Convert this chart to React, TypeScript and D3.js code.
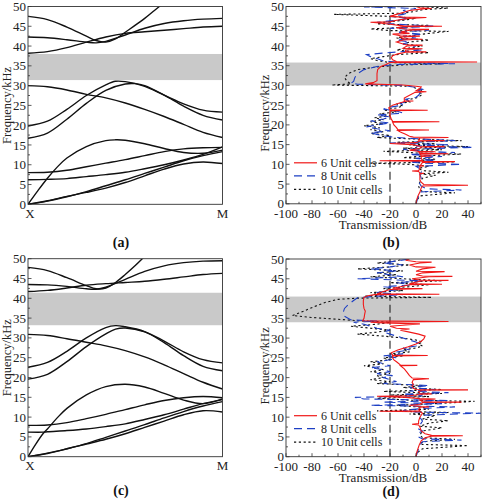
import React from 'react';
import * as d3 from 'd3';

// ---------- Panel (a) band structure: [k (X→M), frequency kHz] ----------
const aB1 = [[0,0],[0.1,0.9],[0.2,2.0],[0.3,3.0],[0.4,4.1],[0.5,5.5],[0.6,7.2],[0.7,8.9],[0.8,10.2],[0.9,10.7],[1,10.3]];
const aB2 = [[0,0],[0.1,0.8],[0.2,1.9],[0.3,3.2],[0.4,4.7],[0.5,6.2],[0.6,7.8],[0.7,9.4],[0.8,11.0],[0.9,12.3],[1,13.3]];
const aB3 = [[0,0],[0.05,3.4],[0.1,6.6],[0.15,9.4],[0.2,11.7],[0.3,14.6],[0.4,16.1],[0.45,16.3],[0.5,16.2],[0.6,15.3],[0.7,14.1],[0.8,13.1],[0.9,12.9],[1,13.7]];
const aB4 = [[0,8.0],[0.1,8.1],[0.2,8.6],[0.3,9.5],[0.4,10.4],[0.5,11.3],[0.6,12.3],[0.7,13.3],[0.8,14.0],[0.9,14.3],[1,14.4]];
const aB5 = [[0,6.2],[0.1,6.3],[0.2,6.5],[0.3,7.0],[0.4,7.5],[0.5,8.1],[0.6,9.0],[0.7,10.0],[0.8,11.2],[0.9,12.6],[1,14.5]];
const aB6 = [[0,16.7],[0.1,18.0],[0.2,21.5],[0.3,25.5],[0.4,28.8],[0.5,30.4],[0.55,30.5],[0.6,30.0],[0.7,27.6],[0.8,24.8],[0.9,22.5],[1,21.3]];
const aB7 = [[0,19.8],[0.1,21.0],[0.2,24.0],[0.3,27.5],[0.4,30.2],[0.45,31.1],[0.5,31.0],[0.6,29.8],[0.7,27.6],[0.8,25.4],[0.9,23.8],[1,23.3]];
const aB8 = [[0,30.0],[0.1,29.7],[0.2,28.9],[0.3,27.8],[0.4,26.9],[0.5,25.6],[0.6,24.0],[0.7,22.2],[0.8,20.2],[0.9,18.2],[1,16.9]];
const aB9 = [[0,38.2],[0.1,38.6],[0.2,39.6],[0.3,41.0],[0.4,42.3],[0.5,43.2],[0.6,43.6],[0.7,44.0],[0.8,44.4],[0.9,44.8],[1,45.0]];
const aB10 = [[0,42.3],[0.1,42.1],[0.2,41.6],[0.3,41.0],[0.35,40.8],[0.4,41.2],[0.5,42.8],[0.6,44.5],[0.7,45.7],[0.8,46.4],[0.9,46.8],[1,47.0]];
const aB11 = [[0,47.5],[0.1,46.7],[0.2,44.8],[0.3,42.5],[0.35,41.4],[0.4,41.0],[0.45,41.8],[0.5,43.5],[0.6,47.0],[0.65,49.0],[0.7,51.0]];
const aGap = [31.4, 38.0];

// ---------- Panel (c) band structure ----------
const cB1 = [[0,0],[0.1,0.9],[0.2,2.0],[0.3,3.2],[0.4,4.4],[0.5,5.8],[0.6,7.4],[0.7,9.0],[0.8,10.6],[0.9,11.6],[1,11.3]];
const cB2 = [[0,0],[0.1,0.8],[0.2,2.0],[0.3,3.3],[0.4,4.9],[0.5,6.5],[0.6,8.1],[0.7,9.8],[0.8,11.4],[0.9,12.8],[1,13.9]];
const cB3 = [[0,0],[0.04,3.2],[0.08,6.0],[0.1,7.0],[0.15,9.8],[0.2,12.2],[0.3,15.6],[0.4,17.7],[0.5,18.3],[0.6,17.6],[0.7,16.0],[0.8,14.3],[0.9,13.4],[1,14.6]];
const cB4 = [[0,7.9],[0.1,8.0],[0.2,8.6],[0.3,9.6],[0.4,10.7],[0.5,11.9],[0.6,13.1],[0.7,14.2],[0.8,14.9],[0.9,15.2],[1,14.9]];
const cB5 = [[0,6.2],[0.08,6.2],[0.1,6.3],[0.2,6.6],[0.3,7.0],[0.4,7.6],[0.5,8.3],[0.6,9.4],[0.7,10.6],[0.8,12.0],[0.9,13.4],[1,14.4]];
const cB6 = [[0,19.6],[0.1,20.8],[0.2,24.0],[0.3,27.8],[0.4,31.0],[0.45,32.2],[0.5,32.5],[0.6,31.5],[0.7,28.8],[0.8,25.5],[0.9,22.8],[1,21.7]];
const cB7 = [[0,22.6],[0.1,23.8],[0.2,26.6],[0.3,30.0],[0.4,32.6],[0.45,33.1],[0.5,32.8],[0.6,31.6],[0.7,29.2],[0.8,26.5],[0.9,24.5],[1,23.7]];
const cB8 = [[0,30.9],[0.1,30.6],[0.2,29.8],[0.3,28.9],[0.4,28.0],[0.5,26.8],[0.6,25.2],[0.7,23.2],[0.8,21.0],[0.9,18.8],[1,17.1]];
const cB9 = [[0,41.7],[0.1,42.0],[0.2,42.6],[0.3,43.3],[0.4,43.7],[0.5,44.0],[0.6,44.3],[0.7,44.8],[0.8,45.4],[0.9,46.0],[1,46.3]];
const cB10 = [[0,43.5],[0.1,43.4],[0.2,43.0],[0.3,42.4],[0.35,42.3],[0.4,42.8],[0.5,44.8],[0.6,46.8],[0.7,48.2],[0.8,49.0],[0.9,49.4],[1,49.5]];
const cB11 = [[0,47.8],[0.1,47.0],[0.2,45.2],[0.3,43.2],[0.35,42.4],[0.4,42.6],[0.45,44.0],[0.5,46.0],[0.55,48.2],[0.6,50.6]];
const cGap = [33.2, 41.4];

// ---------- Panel (b) transmission: [frequency kHz, dB] ----------
const b6 = [[0,0],[1,0.5],[2,1.5],[3,3],[4,4],[4.5,5],[4.7,40],[4.9,6],[5.5,4],[6,3],[7,3],[7.6,3],[7.7,6],[7.8,3],[8.2,2],[8.3,-3],[8.4,2],[9,3],[9.5,3],[9.6,6],[9.7,3],[10,4],[10.5,5],[10.7,30],[10.8,5],[10.9,-28],[11,5],[11.5,4],[12,4],[12.1,12],[12.2,4],[12.6,3],[12.7,25],[12.8,3],[13.1,2],[13.2,15],[13.3,2],[13.6,-5],[14,3],[14.4,4],[14.5,22],[14.6,3],[15,-3],[15.3,-20],[15.5,0],[15.9,3],[16,22],[16.1,2],[16.7,3],[16.8,25],[16.9,-2],[17.1,-5],[17.6,-8],[18.2,-12],[18.6,-14],[18.7,10],[18.8,-14],[19.3,-15],[20,-17],[20.7,-18],[20.8,18],[20.9,-18],[21.5,-19],[22.3,-20],[23,-20],[23.6,-20],[23.7,9],[23.8,-20],[24.3,-21],[25,-18],[25.6,-12],[26,-8],[26.05,-2],[26.1,-9],[26.8,-9],[27.5,-5],[28.2,-1],[28.4,8],[28.6,0],[29.2,3],[29.6,4],[29.8,0],[30.1,-10],[30.4,-39],[30.7,-33],[31.2,-30],[32,-30],[33,-30],[34,-29.5],[34.8,-27],[35.3,-23],[35.7,-21],[35.85,-19],[35.95,47],[36.05,-15],[36.5,-18],[37,-19],[37.5,-18],[38,-14],[38.4,-8],[38.5,8],[38.6,-8],[39,-8],[39.3,5],[39.4,-10],[40,-7],[40.2,5],[40.3,-8],[41,-15],[41.5,-10],[41.7,5],[41.8,-10],[42.3,-12],[42.5,3],[42.6,-12],[43,-18],[43.2,-5],[43.5,-12],[44,-5],[44.2,10],[44.3,-8],[44.6,-15],[44.9,-10],[45,20],[45.1,-10],[45.5,-20],[45.8,-28],[46,-35],[46.1,-20],[46.5,-15],[47,-5],[47.2,8],[47.3,-10],[47.5,-20],[48,-15],[48.5,-10],[49,-5],[49.4,5],[49.5,12],[49.7,3],[50,0]];
const b8 = [[0,0],[1,1],[2,2],[3,3],[3.5,35],[3.8,8],[4.5,4],[5.5,2],[6.5,4],[7.5,3],[8.5,5],[9.5,0],[10,35],[10.3,5],[10.6,-5],[11,15],[11.5,0],[12,20],[12.5,-5],[13,30],[13.3,5],[13.8,-10],[14.3,44],[14.6,0],[15,25],[15.4,-20],[16,30],[16.4,5],[16.8,-15],[17.2,-25],[17.6,-30],[18,-35],[18.5,-20],[19,-30],[19.5,-38],[20,-30],[20.5,-20],[21,-35],[21.5,-25],[22,-20],[22.5,-30],[23,-10],[23.5,-15],[24,-25],[24.5,-20],[25,-10],[25.5,-12],[26,-5],[26.5,-8],[27,0],[27.5,2],[28,3],[28.5,0],[29,5],[29.5,0],[30,-10],[30.3,-45],[30.6,-50],[31,-48],[32,-47],[33,-45],[34,-40],[34.8,-30],[35.3,-15],[35.5,30],[35.8,-10],[36.2,-25],[36.8,-30],[37.3,-35],[37.8,-38],[38.2,-25],[38.6,-10],[39,5],[39.4,-5],[40,0],[40.5,-10],[41,-5],[41.5,-15],[42,0],[42.5,-10],[43,5],[43.5,-15],[44,10],[44.5,-20],[45,15],[45.5,-15],[46,-30],[46.5,-15],[47,-5],[47.5,-20],[48,-10],[48.5,-5],[49,-10],[49.5,0],[49.9,-40],[50,-5]];
const b10 = [[0,0],[1,1],[2,3],[2.8,30],[3.1,5],[3.5,3],[4.5,2],[5.5,3],[6.5,5],[7.2,15],[7.6,3],[8,25],[8.4,5],[9,2],[9.5,10],[10,-5],[10.3,-35],[10.6,30],[10.9,0],[11.3,15],[11.7,-10],[12.2,10],[12.6,35],[12.9,0],[13.3,-25],[13.7,20],[14.1,-10],[14.5,40],[14.9,-5],[15.2,15],[15.6,-15],[16,35],[16.4,0],[16.8,-30],[17.3,-20],[17.8,-35],[18.3,-25],[18.8,-35],[19.3,-28],[19.8,-40],[20.3,-25],[20.8,-35],[21.3,-25],[21.8,-32],[22.3,-20],[22.8,-28],[23.3,-15],[23.8,-25],[24.3,-15],[24.8,-10],[25.3,-15],[25.8,-5],[26.3,-8],[26.8,0],[27.3,3],[27.8,5],[28.3,2],[28.8,5],[29.3,0],[29.8,-5],[30.1,-65],[30.4,-50],[31,-53],[32,-55],[33,-52],[34,-45],[34.7,-30],[35.2,-10],[35.5,20],[35.8,-20],[36.3,-30],[36.8,-35],[37.3,-25],[37.8,-15],[38.3,10],[38.6,-5],[39,-15],[39.5,-5],[40,5],[40.5,-10],[41,-5],[41.5,10],[42,-15],[42.5,-5],[43,5],[43.7,25],[43.9,-20],[44.3,-35],[44.7,-10],[45.2,10],[45.6,-30],[46,-25],[46.5,-10],[47,0],[47.5,-20],[48,-63],[48.3,-10],[48.8,0],[49.2,5],[49.6,25],[50,0]];
const bGap = [30.0, 35.8];

// ---------- Panel (d) transmission ----------
const d6 = [[0,0],[1,0.5],[2,1.5],[3,2.5],[4,4],[4.8,7],[5.2,12],[5.3,36],[5.4,12],[5.8,7],[6.5,4],[7.5,3],[8,2],[8.2,-3],[8.4,2],[9,2],[10,3],[10.5,4],[11,5],[11.4,3],[11.5,-28],[11.6,3],[12,2],[12.5,4],[12.6,10],[12.7,3],[13,-5],[13.2,3],[13.7,5],[13.8,35],[13.9,5],[14.3,3],[14.6,15],[14.7,3],[15,-8],[15.3,-30],[15.4,-5],[15.8,5],[15.9,12],[16,3],[16.5,2],[16.8,5],[16.9,40],[17,0],[17.3,-2],[17.8,-3],[18.3,-2],[18.8,-3],[19.5,-2],[19.7,10],[19.9,-3],[20.5,-5],[21.4,-7],[22.2,-9],[23,-12],[23.1,1],[23.2,-12],[24,-15],[24.5,-17],[25,-18],[25.5,-18],[25.6,9],[25.7,-18],[26.3,-19],[27,-14],[27.8,-6],[28.5,0],[29.2,4],[29.8,6],[30.5,7],[31,2],[31.5,-5],[32,-12],[32.3,-5],[32.5,-15],[33,-20],[33.3,-8],[33.6,3],[33.8,-25],[34,-35],[34.2,25],[34.4,-41],[35,-40],[36,-39.5],[36.8,-39],[37.5,-40],[38.5,-40.5],[39.5,-40.5],[40.3,-40],[40.7,-37],[41,-32],[41.1,18],[41.2,-30],[41.8,-25],[42.3,-20],[42.5,5],[42.6,-18],[43,-12],[43.5,-5],[43.6,20],[43.7,-5],[44,-2],[44.5,5],[44.6,25],[44.7,3],[45,-3],[45.5,10],[45.6,28],[45.7,5],[46,0],[46.5,5],[46.8,22],[46.9,0],[47.5,5],[47.9,15],[48,0],[48.5,-5],[49,3],[49.2,12],[49.3,0],[49.7,-8],[50,-5]];
const d8 = [[0,0],[1,1],[2,2],[3,3],[3.8,5],[4.2,35],[4.5,5],[5,2],[6,2],[6.5,5],[7,2],[8,3],[9,5],[10,3],[10.5,5],[11,50],[11.3,0],[11.7,-10],[12.2,5],[12.6,30],[13,-35],[13.4,20],[13.8,-25],[14.2,25],[14.6,-40],[15,-47],[15.4,5],[15.8,-10],[16.2,25],[16.6,-5],[17,15],[17.5,-5],[18,10],[18.5,-25],[19,-15],[19.5,-20],[20,-25],[20.5,-18],[21,-30],[21.5,-20],[22,-25],[22.5,-35],[23,-20],[23.5,-25],[24,-30],[24.5,-20],[25,-15],[25.5,-25],[26,-10],[26.5,-15],[27,-5],[27.5,-10],[28,0],[28.5,3],[29,0],[29.5,-5],[30,-10],[30.5,-15],[31,-20],[31.5,-25],[32,-20],[32.5,-30],[33,-35],[33.5,-40],[34,-48],[34.3,-30],[34.6,-50],[35.5,-55],[36.5,-56],[37.5,-55],[38.5,-52],[39.5,-48],[40.2,-45],[40.6,-30],[41,-10],[41.5,-30],[42,-20],[42.5,-10],[43,-25],[43.5,0],[44,-15],[44.5,5],[45,-45],[45.5,-10],[46,-20],[46.5,-30],[47,-15],[47.5,-35],[48,-20],[48.5,-10],[49,-25],[49.5,-15],[50,-5]];
const d10 = [[0,0],[1,1],[2,5],[2.8,40],[3.1,5],[3.5,3],[4,10],[4.4,30],[4.8,5],[5.5,3],[6.5,5],[7.3,20],[7.7,3],[8.5,10],[9.1,25],[9.5,5],[10,10],[10.4,15],[10.8,-5],[11.2,25],[11.6,-30],[12,10],[12.5,5],[13,-15],[13.5,20],[14,45],[14.3,-5],[14.8,-30],[15.2,10],[15.6,-20],[16,20],[16.5,-25],[17,20],[17.5,-10],[18,5],[18.5,-30],[19,-20],[19.5,-35],[20,-25],[20.5,-30],[21,-20],[21.5,-35],[22,-25],[22.5,-30],[23,-40],[23.5,-25],[24,-35],[24.5,-20],[25,-25],[25.5,-10],[26,-20],[26.5,-5],[27,-10],[27.5,0],[28,5],[28.5,2],[29,5],[29.5,0],[30,-10],[30.5,-25],[31,-45],[31.5,-30],[32,-20],[32.5,-35],[33,-50],[33.5,-30],[34,-20],[34.4,-45],[34.8,-62],[35.2,-80],[35.7,-95],[36.2,-91],[37,-85],[38,-78],[39,-70],[39.8,-60],[40.1,-45],[40.3,12],[40.6,-40],[41,-20],[41.5,-35],[42,-10],[42.5,-25],[43,-5],[43.5,10],[44,-20],[44.5,20],[45,-10],[45.5,-35],[46,-15],[46.5,-30],[47,-10],[47.5,-45],[48,-20],[48.5,-5],[49,-30],[49.5,-15],[50,-10]];
const dGap = [34.0, 40.5];

const freqTicks = [0, 5, 10, 15, 20, 25, 30, 35, 40, 45, 50];
const dbTicks = [-100, -80, -60, -40, -20, 0, 20, 40];
const legendLabels = ['6 Unit cells', '8 Unit cells', '10 Unit cells'];
const seriesColors = ['#f01818', '#1d3fc4', '#111111'];
const seriesDash = ['none', '8,5', '2.2,2.6'];

const FONT = 'Liberation Serif';

type Pt = number[];

function BandPanel({ bands, gap, top, bottom, label, labelY, id }: { bands: Pt[][]; gap: number[]; top: number; bottom: number; label: string; labelY: number; id: string }) {
  const x = d3.scaleLinear().domain([0, 1]).range([28, 222.5]);
  const y = d3.scaleLinear().domain([0, 50]).range([bottom, top]);
  const line = d3.line<Pt>().x(d => x(d[0])).y(d => y(d[1])).curve(d3.curveCatmullRom.alpha(0.5));
  const minor = d3.range(0, 50.01, 2.5);
  return (
    <g>
      <defs>
        <clipPath id={id}><rect x={x(0)} y={y(50)} width={x(1) - x(0)} height={y(0) - y(50)} /></clipPath>
      </defs>
      <rect x={x(0)} y={y(gap[1])} width={x(1) - x(0)} height={y(gap[0]) - y(gap[1])} fill="#c9c9c9" />
      <g clipPath={`url(#${id})`}>
        {bands.map((b, i) => <path key={i} d={line(b) || ''} fill="none" stroke="#111" strokeWidth={1.4} />)}
      </g>
      <rect x={x(0)} y={y(50)} width={x(1) - x(0)} height={y(0) - y(50)} fill="none" stroke="#333" strokeWidth={0.9} />
      {minor.map(t => (
        <line key={t} x1={x(0)} x2={x(0) + (t % 5 === 0 ? 3.5 : 2)} y1={y(t)} y2={y(t)} stroke="#333" strokeWidth={0.8} />
      ))}
      {freqTicks.map(t => (
        <text key={t} x={x(0) - 2} y={y(t)} dy="0.35em" textAnchor="end" fontSize={13} fill="#222">{t}</text>
      ))}
      <text x={x(0) + 2} y={bottom + 13.5} textAnchor="middle" fontSize={13} fill="#222">X</text>
      <text x={x(1)} y={bottom + 13.5} textAnchor="middle" fontSize={13} fill="#222">M</text>
      <text transform={`translate(${6.5},${(top + bottom) / 2}) rotate(-90)`} textAnchor="middle" dy="0.35em" fontSize={12.5} fill="#222">Frequency/kHz</text>
      <text x={121} y={labelY} dy="0.35em" textAnchor="middle" fontSize={14} fontWeight="bold" fill="#111">{label}</text>
    </g>
  );
}

function TransPanel({ series, gap, top, bottom, label, labelY, id }: { series: Pt[][]; gap: number[]; top: number; bottom: number; label: string; labelY: number; id: string }) {
  const x = d3.scaleLinear().domain([-100, 50]).range([286, 481]);
  const y = d3.scaleLinear().domain([0, 50]).range([bottom, top]);
  const line = d3.line<Pt>().x(d => x(d[1])).y(d => y(d[0]));
  const minorY = d3.range(0, 50.01, 2.5);
  const minorX = d3.range(-100, 50.01, 10);
  const legY = [bottom - 41, bottom - 28, bottom - 14.5];
  return (
    <g>
      <defs>
        <clipPath id={id}><rect x={x(-100)} y={y(50)} width={x(50) - x(-100)} height={y(0) - y(50)} /></clipPath>
      </defs>
      <rect x={x(-100)} y={y(gap[1])} width={x(50) - x(-100)} height={y(gap[0]) - y(gap[1])} fill="#c9c9c9" />
      <line x1={x(-20)} x2={x(-20)} y1={y(0)} y2={y(50)} stroke="#222" strokeWidth={1.1} strokeDasharray="8,4" />
      <g clipPath={`url(#${id})`}>
        {[2, 1, 0].map(i => (
          <path key={i} d={line(series[i]) || ''} fill="none" stroke={seriesColors[i]} strokeWidth={1.1} strokeDasharray={seriesDash[i]} />
        ))}
      </g>
      <rect x={x(-100)} y={y(50)} width={x(50) - x(-100)} height={y(0) - y(50)} fill="none" stroke="#333" strokeWidth={0.9} />
      {minorY.map(t => (
        <line key={t} x1={x(-100)} x2={x(-100) + (t % 5 === 0 ? 3.5 : 2)} y1={y(t)} y2={y(t)} stroke="#333" strokeWidth={0.8} />
      ))}
      {minorX.map(t => (
        <line key={t} x1={x(t)} x2={x(t)} y1={y(0)} y2={y(0) - (t % 20 === 0 ? 3.5 : 2)} stroke="#333" strokeWidth={0.8} />
      ))}
      {freqTicks.map(t => (
        <text key={t} x={x(-100) - 2} y={y(t)} dy="0.35em" textAnchor="end" fontSize={13} fill="#222">{t}</text>
      ))}
      {dbTicks.map(t => (
        <text key={t} x={x(t)} y={bottom + 14} textAnchor="middle" fontSize={13} fill="#222">{t}</text>
      ))}
      <text x={383} y={bottom + 25.5} textAnchor="middle" fontSize={13} fill="#222">Transmission/dB</text>
      <text transform={`translate(${264.5},${(top + bottom) / 2 + 8}) rotate(-90)`} textAnchor="middle" dy="0.35em" fontSize={12.5} fill="#222">Frequency/kHz</text>
      {legendLabels.map((l, i) => (
        <g key={l}>
          <line x1={294} x2={317} y1={legY[i]} y2={legY[i]} stroke={seriesColors[i]} strokeWidth={1.2} strokeDasharray={seriesDash[i]} />
          <text x={321} y={legY[i]} dy="0.35em" fontSize={12} fill="#222">{l}</text>
        </g>
      ))}
      <text x={391} y={labelY} dy="0.35em" textAnchor="middle" fontSize={14} fontWeight="bold" fill="#111">{label}</text>
    </g>
  );
}

export default function App() {
  return (
    <svg width={482} height={500} fontFamily={FONT} style={{ position: 'absolute', left: 0, top: 0, background: '#fff' }}>
      <rect width={482} height={500} fill="#fff" />
      <BandPanel id="ca" bands={[aB1, aB2, aB3, aB4, aB5, aB6, aB7, aB8, aB9, aB10, aB11]} gap={aGap} top={6.5} bottom={204.3} label="(a)" labelY={242} />
      <TransPanel id="cb" series={[b6, b8, b10]} gap={bGap} top={6.5} bottom={203.8} label="(b)" labelY={242.5} />
      <BandPanel id="cc" bands={[cB1, cB2, cB3, cB4, cB5, cB6, cB7, cB8, cB9, cB10, cB11]} gap={cGap} top={258.7} bottom={456.7} label="(c)" labelY={490} />
      <TransPanel id="cd" series={[d6, d8, d10]} gap={dGap} top={259} bottom={456.7} label="(d)" labelY={491.5} />
    </svg>
  );
}
